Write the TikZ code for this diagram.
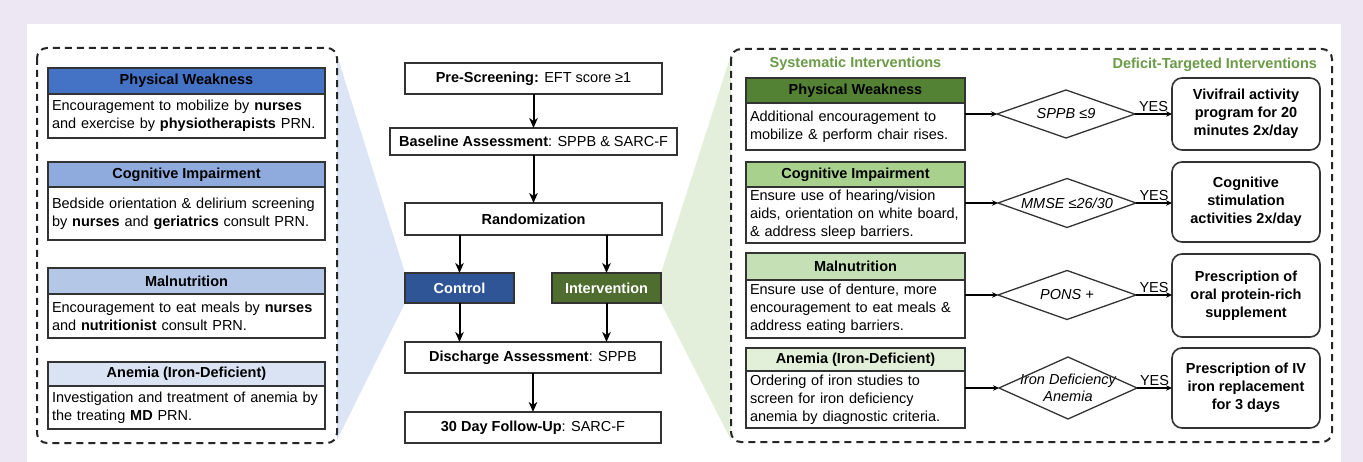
\documentclass[tikz,border=0pt]{standalone}
\usepackage{fontspec}
\setmainfont{Liberation Sans}
\usetikzlibrary{arrows.meta,calc,backgrounds}

\definecolor{lav}{HTML}{EDE7F3}
\definecolor{lc}{HTML}{333333}
\definecolor{bA}{HTML}{4472C4}
\definecolor{bB}{HTML}{8FAADC}
\definecolor{bC}{HTML}{B4C7E7}
\definecolor{bD}{HTML}{DAE3F3}
\definecolor{gA}{HTML}{548235}
\definecolor{gB}{HTML}{A9D18E}
\definecolor{gC}{HTML}{C5E0B4}
\definecolor{gD}{HTML}{E2F0D9}
\definecolor{ctlc}{HTML}{2F5597}
\definecolor{itvc}{HTML}{4F6D2E}
\definecolor{gtitle}{HTML}{6B9B46}
\definecolor{wblue}{HTML}{DCE5F5}
\definecolor{wgreen}{HTML}{E3EFDA}

\tikzset{
  txt/.style={font=\fontsize{14.5}{18}\selectfont, outer sep=0pt},
  boxline/.style={draw=lc, line width=1.5pt},
  lhdr/.style={txt, boxline, font=\fontsize{14.5}{18}\selectfont\bfseries,
    minimum width=277pt, inner sep=0pt, anchor=north west},
  lbody/.style={txt, boxline, fill=white, text width=269pt, inner xsep=4pt,
    inner ysep=0pt, align=left, anchor=north west},
  rhdr/.style={txt, boxline, font=\fontsize{14.5}{18}\selectfont\bfseries,
    minimum width=219pt, inner sep=0pt, anchor=north west},
  rbody/.style={txt, boxline, fill=white, text width=211pt, inner xsep=4pt,
    inner ysep=0pt, align=left, anchor=north west},
  cbox/.style={txt, boxline, fill=white, inner sep=0pt, align=center},
  armbox/.style={txt, boxline, font=\fontsize{14.5}{18}\selectfont\bfseries,
    text=white, minimum width=109pt, minimum height=30pt, inner sep=0pt},
  dia/.style={txt, font=\fontsize{14.5}{17}\selectfont\itshape,
    minimum width=138pt, inner sep=0pt, align=center},
  dialine/.style={draw=lc, line width=1.3pt, line join=miter},
  rbox/.style={txt, draw=lc, line width=1.6pt, rounded corners=10pt,
    font=\fontsize{14.5}{18}\selectfont\bfseries, minimum width=148pt,
    inner sep=0pt, align=center, fill=white},
  carrow/.style={draw=black, line width=2pt,
    -{Stealth[length=10pt,width=8.5pt,inset=3pt]}},
  sarrow/.style={draw=black, line width=1.3pt,
    -{Stealth[length=6pt,width=5.5pt,inset=2pt]}},
  dashbox/.style={draw=black!85, line width=2pt, dash pattern=on 7pt off 5pt,
    rounded corners=10pt},
  gtitle/.style={txt, font=\fontsize{14.5}{18}\selectfont\bfseries, text=gtitle,
    inner sep=0pt}
}

\begin{document}
\begin{tikzpicture}[x=1pt,y=-1pt]
\useasboundingbox (0,0) rectangle (1363,462);

% ---------- usual care (left panel) ----------
\node[lhdr, fill=bA, minimum height=26pt] (lh1) at (48,68) {Physical Weakness};
\node[lbody, minimum height=44pt] (lb1) at (lh1.south west)
  {Encouragement to mobilize by \textbf{nurses}\\and exercise by \textbf{physiotherapists} PRN.};
\node[lhdr, fill=bB, minimum height=25pt] (lh2) at (48,162) {Cognitive Impairment};
\node[lbody, minimum height=53pt] (lb2) at (lh2.south west)
  {Bedside orientation \& delirium screening\\by \textbf{nurses} and \textbf{geriatrics} consult PRN.};
\node[lhdr, fill=bC, minimum height=26pt] (lh3) at (48,268) {Malnutrition};
\node[lbody, minimum height=44pt] (lb3) at (lh3.south west)
  {Encouragement to eat meals by \textbf{nurses}\\and \textbf{nutritionist} consult PRN.};
\node[lhdr, fill=bD, minimum height=24pt] (lh4) at (48,362) {Anemia (Iron-Deficient)};
\node[lbody, minimum height=43pt] (lb4) at (lh4.south west)
  {Investigation and treatment of anemia by\\the treating \textbf{MD} PRN.};

% ---------- trial flow (centre) ----------
\node[cbox, minimum width=257pt, minimum height=31pt] (pre) at (533.5,78.5)
  {\textbf{Pre-Screening:} EFT score ≥1};
\node[cbox, minimum width=287pt, minimum height=27pt] (bas) at (533.5,141.5)
  {\textbf{Baseline Assessment}: SPPB \& SARC-F};
\node[cbox, minimum width=257pt, minimum height=32pt] (rnd) at (533.5,219)
  {\textbf{Randomization}};
\node[armbox, fill=ctlc] (ctl) at (459.5,288) {Control};
\node[armbox, fill=itvc] (itv) at (606.5,288) {Intervention};
\node[cbox, minimum width=256pt, minimum height=31pt] (dis) at (533,357.5)
  {\textbf{Discharge Assessment}: SPPB};
\node[cbox, minimum width=256pt, minimum height=31pt] (fup) at (533,427.5)
  {\textbf{30 Day Follow-Up}: SARC-F};

\draw[carrow] (pre.south) -- (pre.south |- bas.north);
\draw[carrow] (bas.south) -- (bas.south |- rnd.north);
\draw[carrow] (rnd.south -| ctl.north) -- (ctl.north);
\draw[carrow] (rnd.south -| itv.north) -- (itv.north);
\draw[carrow] (ctl.south) -- (ctl.south |- dis.north);
\draw[carrow] (itv.south) -- (itv.south |- dis.north);
\draw[carrow] (dis.south) -- (dis.south |- fup.north);

% ---------- intervention bundle (right panel) ----------
\node[gtitle] (t1) at (855.5,64) {Systematic Interventions};
\node[gtitle, anchor=east] (t2) at (1317,65) {Deficit-Targeted Interventions};

\node[rhdr, fill=gA, minimum height=25pt] (rh1) at (746,78) {Physical Weakness};
\node[rbody, minimum height=47pt] (rb1) at (rh1.south west)
  {Additional encouragement to\\mobilize \& perform chair rises.};
\node[rhdr, fill=gB, minimum height=25pt] (rh2) at (746,162) {Cognitive Impairment};
\node[rbody, minimum height=56pt] (rb2) at (rh2.south west)
  {Ensure use of hearing/vision\\aids, orientation on white board,\\\& address sleep barriers.};
\node[rhdr, fill=gC, minimum height=27pt] (rh3) at (746,253) {Malnutrition};
\node[rbody, minimum height=58pt] (rb3) at (rh3.south west)
  {Ensure use of denture, more\\encouragement to eat meals \&\\address eating barriers.};
\node[rhdr, fill=gD, minimum height=23pt] (rh4) at (746,348) {Anemia (Iron-Deficient)};
\node[rbody, minimum height=57pt] (rb4) at (rh4.south west)
  {Ordering of iron studies to\\screen for iron deficiency\\anemia by diagnostic criteria.};

% decision diamonds
\node[dia, minimum height=48pt] (d1) at (1066,114) {SPPB ≤9};
\node[dia, minimum height=49pt] (d2) at (1067,203) {MMSE ≤26/30};
\node[dia, minimum height=49pt] (d3) at (1067,295) {PONS +};
\node[dia, minimum height=62pt] (d4) at (1068,388) {Iron Deficiency\\Anemia};
\foreach \d in {d1,d2,d3,d4}
  \draw[dialine] (\d.west) -- (\d.north) -- (\d.east) -- (\d.south) -- cycle;

% targeted actions
\node[rbox, minimum height=72pt] (r1) at (1246,114)
  {Vivifrail activity\\program for 20\\minutes 2x/day};
\node[rbox, minimum height=80pt] (r2) at (1246,202)
  {Cognitive\\stimulation\\activities 2x/day};
\node[rbox, minimum height=83pt] (r3) at (1246,295.5)
  {Prescription of\\oral protein-rich\\supplement};
\node[rbox, minimum height=80pt] (r4) at (1246,388)
  {Prescription of IV\\iron replacement\\for 3 days};

\draw[sarrow] (rb1.east |- d1.west) -- (d1.west);
\draw[sarrow] (rb2.east |- d2.west) -- (d2.west);
\draw[sarrow] (rb3.east |- d3.west) -- (d3.west);
\draw[sarrow] (rb4.east |- d4.west) -- (d4.west);

\draw[sarrow] (d1.east) -- (d1.east -| r1.west)
  node[txt, midway, above, inner sep=2pt] (y1) {YES};
\draw[sarrow] (d2.east) -- (d2.east -| r2.west)
  node[txt, midway, above, inner sep=2pt] (y2) {YES};
\draw[sarrow] (d3.east) -- (d3.east -| r3.west)
  node[txt, midway, above, inner sep=2pt] (y3) {YES};
\draw[sarrow] (d4.east) -- (d4.east -| r4.west)
  node[txt, midway, above, inner sep=2pt] (y4) {YES};

% ---------- backdrop, funnels and panel outlines ----------
\begin{scope}[on background layer]
  \fill[lav] (0,0) rectangle (1363,462);
  \fill[white] (27,24) rectangle (1341,462);
  \fill[wblue] (337,55) -- (ctl.north west) -- (ctl.south west) -- (337,440) -- cycle;
  \fill[wgreen] (731,55) -- (itv.north east) -- (itv.south east) -- (731,440) -- cycle;
  \draw[dashbox] (37,48) rectangle (337,443);
  \draw[dashbox] (731,49) rectangle (1332,442);
\end{scope}
\end{tikzpicture}
\end{document}
